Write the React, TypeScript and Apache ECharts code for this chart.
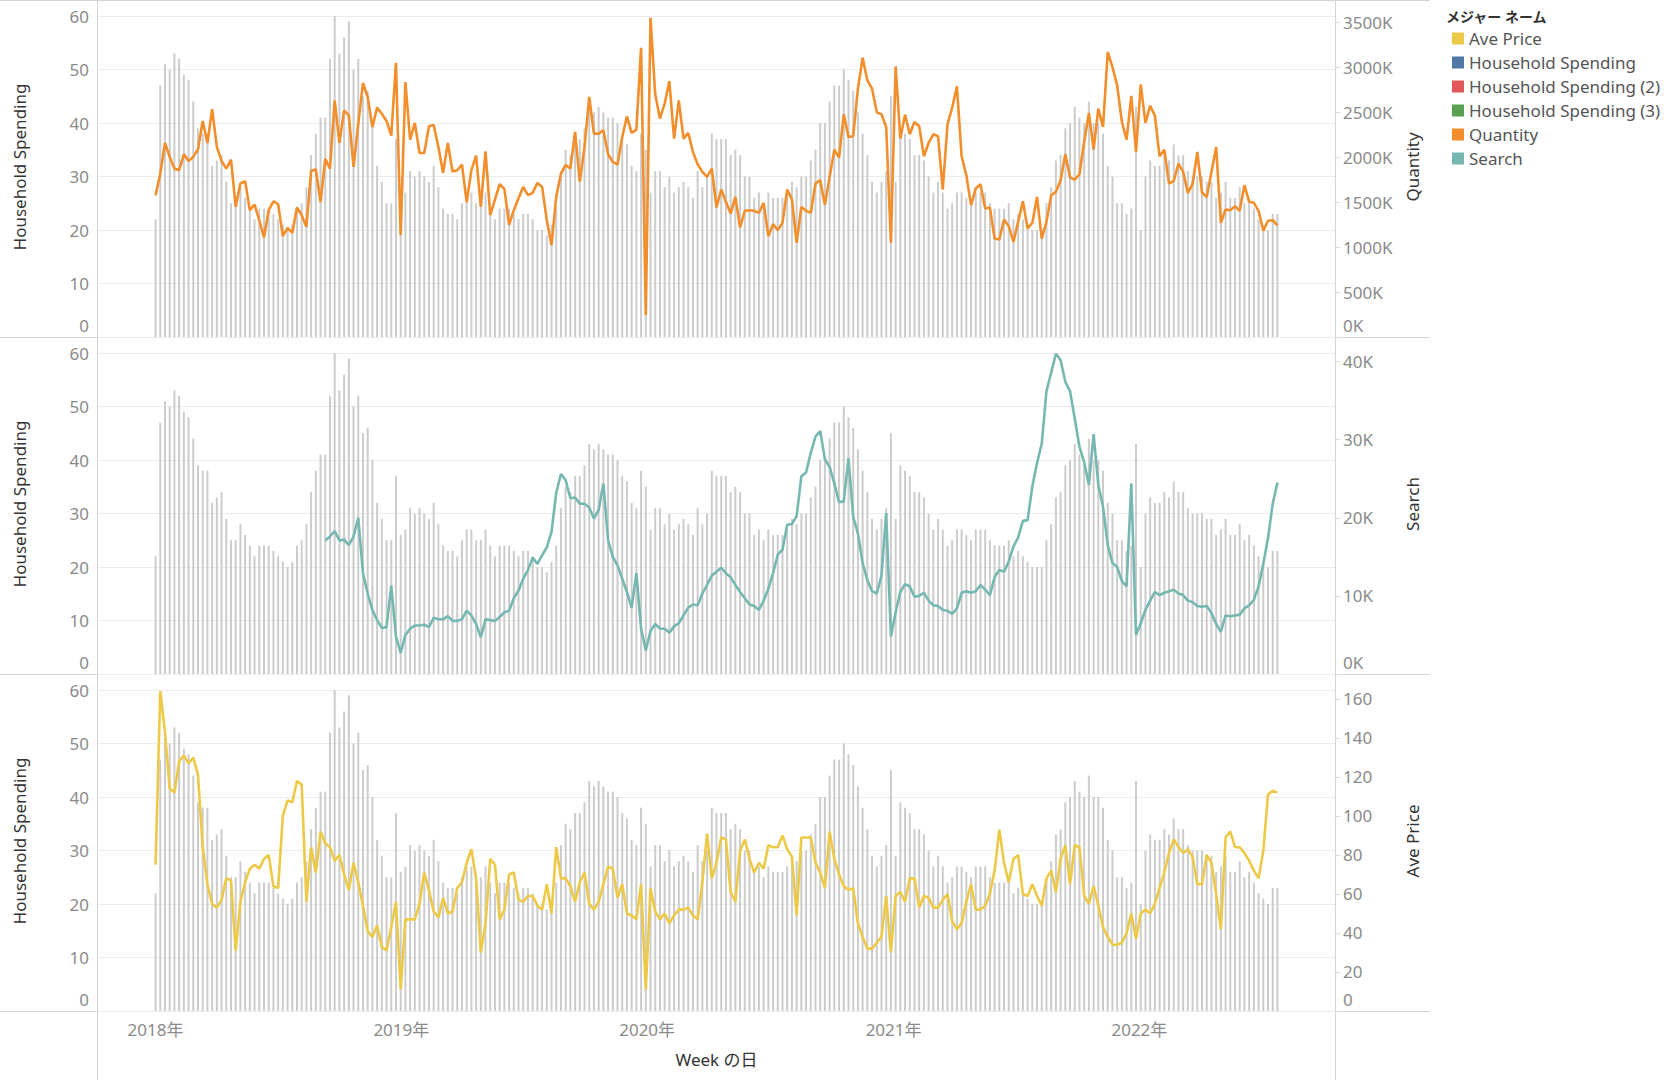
import React, { useEffect, useRef } from 'react';
import * as echarts from 'echarts';

// Weekly data, first week starts 2018-01-01 (Monday)
const FIRST_WEEK = { y: 2018, m: 0, d: 1 };

// Household Spending (grey bars, same in all three panes)
const SPENDING = [
  22, 47, 51, 50, 53, 52, 49, 48, 44, 39,
  38, 38, 32, 33, 34, 29, 25, 25, 28, 26,
  24, 22, 24, 24, 24, 23, 22, 21, 20, 21,
  24, 25, 28, 34, 38, 41, 41, 52, 60, 53,
  56, 59, 50, 52, 45, 46, 40, 32, 29, 25,
  25, 37, 26, 27, 31, 30, 31, 30, 29, 32,
  28, 24, 23, 23, 22, 25, 27, 27, 25, 25,
  27, 24, 22, 24, 24, 24, 23, 22, 23, 23,
  22, 20, 20, 19, 21, 24, 31, 35, 34, 37,
  37, 39, 43, 42, 43, 42, 41, 41, 40, 37,
  36, 32, 31, 38, 35, 27, 31, 31, 28, 30,
  27, 28, 29, 28, 26, 31, 28, 30, 38, 37,
  37, 37, 34, 35, 34, 30, 30, 26, 27, 25,
  27, 26, 26, 26, 27, 29, 28, 30, 30, 33,
  35, 40, 40, 44, 47, 47, 50, 48, 46, 42,
  38, 34, 29, 27, 29, 31, 45, 29, 39, 38,
  37, 34, 34, 33, 30, 27, 29, 27, 24, 25,
  27, 27, 26, 25, 27, 27, 27, 25, 24, 24,
  24, 25, 22, 23, 22, 21, 20, 20, 20, 25,
  28, 33, 34, 39, 40, 43, 41, 40, 44, 40,
  40, 38, 32, 30, 25, 25, 23, 24, 43, 20,
  30, 33, 32, 32, 34, 33, 36, 34, 34, 31,
  30, 30, 30, 29, 29, 26, 27, 29, 26, 26,
  28, 25, 26, 24, 22, 21, 20, 23, 23,
];

// Quantity, in thousands
const QUANTITY_K = [
  1574, 1819, 2159, 2004, 1874, 1856, 2033, 1959, 2004, 2089,
  2404, 2159, 2534, 2115, 1959, 1874, 1974, 1448, 1708, 1733,
  1411, 1474, 1300, 1107, 1411, 1508, 1478, 1122, 1215, 1159,
  1441, 1356, 1226, 1848, 1867, 1500, 1982, 1874, 2634, 2159,
  2522, 2467, 1893, 2374, 2826, 2671, 2337, 2552, 2485, 2404,
  2241, 3052, 1133, 2837, 2197, 2382, 2048, 2048, 2345, 2359,
  2115, 1826, 2159, 1841, 1856, 1919, 1500, 1856, 2019, 1448,
  2067, 1356, 1530, 1700, 1648, 1248, 1411, 1545, 1670, 1578,
  1604, 1715, 1670, 1300, 1022, 1559, 1819, 1915, 1874, 2282,
  1726, 2115, 2671, 2263, 2263, 2300, 2033, 1948, 1919, 2226,
  2456, 2271, 2308, 3219, 244, 3552, 2700, 2430, 2597, 2848,
  2208, 2634, 2208, 2271, 2059, 1922, 1837, 1782, 1874, 1441,
  1641, 1504, 1374, 1559, 1219, 1404, 1411, 1404, 1382, 1493,
  1122, 1256, 1189, 1270, 1641, 1530, 1048, 1448, 1404, 1382,
  1708, 1745, 1470, 1782, 2085, 1996, 2478, 2226, 2234, 2763,
  3108, 2856, 2763, 2500, 2478, 2337, 1048, 3011, 2208, 2474,
  2256, 2393, 2345, 2011, 2159, 2256, 2234, 1641, 2367, 2552,
  2789, 2011, 1800, 1467, 1652, 1700, 1430, 1441, 1096, 1085,
  1308, 1233, 1059, 1282, 1511, 1208, 1270, 1559, 1096, 1282,
  1578, 1615, 1745, 2033, 1774, 1752, 1811, 2171, 2493, 2085,
  2541, 2337, 3171, 3004, 2800, 2393, 2197, 2682, 2059, 2811,
  2382, 2574, 2463, 2011, 2085, 1708, 1737, 1930, 1837, 1604,
  1700, 2059, 1604, 1559, 1837, 2115, 1270, 1419, 1411, 1456,
  1404, 1689, 1504, 1493, 1404, 1182, 1293, 1300, 1241,
];

// Search, in thousands (series begins at week index 36)
const SEARCH_FIRST_WEEK = 36;
const SEARCH_K = [
  17.1, 17.6, 18.3, 17.1,
  17.2, 16.5, 17.6, 20.0, 12.9, 10.3, 8.2, 6.9, 5.9, 6.0,
  11.3, 4.8, 2.7, 5.0, 5.8, 6.2, 6.2, 6.3, 6.0, 7.2,
  7.0, 7.0, 7.4, 6.8, 6.8, 7.0, 8.1, 7.5, 6.4, 4.7,
  7.0, 6.9, 6.8, 7.3, 7.9, 8.1, 9.7, 10.7, 12.2, 13.3,
  14.9, 14.1, 15.2, 16.2, 18.2, 23.2, 25.6, 24.8, 22.5, 22.6,
  21.8, 21.8, 21.3, 19.9, 21.0, 24.4, 17.1, 15.0, 13.9, 12.2,
  10.5, 8.5, 12.9, 5.8, 3.0, 5.5, 6.4, 5.8, 5.8, 5.3,
  6.1, 6.5, 7.5, 8.5, 8.9, 8.8, 10.3, 11.4, 12.6, 13.1,
  13.6, 12.9, 12.4, 11.4, 10.5, 9.7, 8.9, 8.7, 8.2, 9.4,
  10.9, 12.9, 15.3, 15.9, 19.1, 19.2, 20.2, 25.3, 25.8, 28.3,
  30.4, 31.1, 27.5, 26.5, 24.4, 22.0, 22.1, 27.6, 20.1, 18.0,
  14.2, 12.0, 10.6, 10.3, 12.6, 20.6, 4.8, 7.9, 10.5, 11.5,
  11.2, 9.9, 10.0, 10.4, 9.4, 8.8, 8.7, 8.2, 8.1, 7.7,
  8.4, 10.4, 10.6, 10.4, 10.6, 11.4, 10.8, 10.1, 12.4, 13.3,
  13.1, 14.4, 16.3, 17.5, 19.6, 19.7, 24.0, 27.0, 29.5, 36.2,
  38.6, 41.0, 40.2, 37.4, 36.2, 32.7, 29.1, 27.1, 24.2, 30.7,
  24.2, 21.4, 16.5, 14.2, 13.7, 11.9, 11.2, 24.4, 5.0, 6.5,
  8.2, 9.4, 10.5, 10.1, 10.4, 10.6, 10.8, 10.3, 10.1, 9.4,
  9.2, 8.7, 8.6, 8.7, 7.8, 6.4, 5.4, 7.5, 7.4, 7.5,
  7.6, 8.4, 8.8, 9.5, 11.2, 14.1, 17.4, 21.8, 24.5,
];

// Ave Price
const AVE_PRICE = [
  75, 164, 143, 114, 112, 128, 131, 127, 130, 121,
  84, 65, 55, 53, 57, 68, 67, 31, 56, 66,
  73, 75, 73, 78, 80, 64, 63, 100, 108, 107,
  118, 116, 56, 84, 71, 92, 86, 84, 77, 80,
  70, 62, 76, 66, 54, 41, 38, 44, 33, 31,
  43, 56, 11, 47, 47, 47, 55, 71, 62, 51,
  48, 58, 50, 51, 63, 66, 76, 83, 68, 30,
  45, 78, 75, 47, 52, 70, 71, 57, 56, 59,
  59, 54, 52, 65, 50, 84, 68, 68, 64, 56,
  66, 71, 55, 52, 56, 65, 74, 73, 58, 65,
  50, 49, 47, 65, 11, 63, 51, 47, 50, 45,
  49, 52, 52, 53, 49, 47, 66, 91, 68, 76,
  89, 88, 61, 56, 82, 88, 78, 71, 76, 73,
  85, 84, 84, 90, 83, 79, 49, 89, 89, 89,
  76, 71, 63, 92, 78, 70, 64, 62, 63, 45,
  38, 32, 32, 35, 38, 59, 30, 59, 61, 56,
  68, 68, 53, 59, 58, 53, 53, 57, 60, 46,
  42, 45, 56, 65, 52, 52, 54, 60, 72, 93,
  76, 66, 78, 80, 60, 59, 65, 59, 54, 68,
  72, 61, 78, 85, 65, 85, 84, 59, 55, 64,
  54, 43, 38, 34, 34, 35, 40, 50, 37, 50,
  52, 50, 55, 63, 71, 81, 88, 84, 81, 83,
  79, 65, 65, 80, 76, 60, 42, 89, 92, 84,
  84, 81, 77, 72, 68, 82, 111, 113, 112,
];

const LEGEND_TITLE = 'メジャー ネーム';
const LEGEND_ITEMS = [
  { name: 'Ave Price', color: '#edc948' },
  { name: 'Household Spending', color: '#4e79a7' },
  { name: 'Household Spending (2)', color: '#e15759' },
  { name: 'Household Spending (3)', color: '#59a14f' },
  { name: 'Quantity', color: '#f28e2b' },
  { name: 'Search', color: '#76b7b2' },
];
const BAR_NAMES = ['Household Spending', 'Household Spending (2)', 'Household Spending (3)'];
const X_TITLE = 'Week の日';
const LEFT_TITLE = 'Household Spending';

const FONT = '"Noto Sans", "Noto Sans CJK JP", sans-serif';
const LABEL_COLOR = '#8a8a8a';
const TITLE_COLOR = '#333333';
const BAR_COLOR = '#cccccc';
const GRID_LINE = '#ececec';
const BORDER = '#d4d4d4';
const FS = 17;

const weekTime = (i: number) => new Date(FIRST_WEEK.y, FIRST_WEEK.m, FIRST_WEEK.d + 7 * i).getTime();

export default function App() {
  const ref = useRef<HTMLDivElement>(null);

  useEffect(() => {
    if (!ref.current) return;
    const chart = echarts.init(ref.current, undefined, { renderer: 'svg' });

    const GRID_L = 98;
    const GRID_W = 1237;
    const GRID_H = 321;
    const panels = [
      { top: 16, rightMax: 3572, step: 500, title: 'Quantity', unit: 'K' },
      { top: 353, rightMax: 41.09, step: 10, title: 'Search', unit: 'K' },
      { top: 690, rightMax: 164.6, step: 20, title: 'Ave Price', unit: '' },
    ];

    const xMin = new Date(2017, 9, 9).getTime();
    const xMax = new Date(2022, 9, 17).getTime();
    const DAY = 86400000;

    const grids = panels.map((p) => ({ left: GRID_L, width: GRID_W, top: p.top, height: GRID_H, outerBoundsMode: 'none' }));

    const xAxes = panels.map((p, k) => ({
      type: 'time',
      gridIndex: k,
      min: xMin,
      max: xMax,
      minInterval: 365 * DAY,
      maxInterval: 366 * DAY,
      axisLine: { show: false },
      axisTick: { show: false },
      splitLine: { show: false },
      axisLabel: k === 2
        ? {
            show: true,
            fontSize: FS,
            color: LABEL_COLOR,
            fontFamily: FONT,
            margin: 10,
            hideOverlap: false,
            formatter: (val: number) => {
              const d = new Date(val);
              return d.getMonth() === 0 && d.getDate() === 1 ? d.getFullYear() + '年' : '';
            },
          }
        : { show: false },
      name: k === 2 ? X_TITLE : '',
      nameLocation: 'middle',
      nameGap: 40,
      nameTextStyle: { fontSize: FS, color: TITLE_COLOR, fontFamily: FONT },
    }));

    const zeroRich = { z: { padding: [0, 0, 24, 0], fontSize: FS, color: LABEL_COLOR, fontFamily: FONT } };
    // axis titles are centred a little above the pane centre (as in the reference)
    const titlePad = [0, 0, 0, 19];

    const yAxes: any[] = [];
    panels.forEach((p, k) => {
      yAxes.push({
        type: 'value',
        gridIndex: k,
        position: 'left',
        min: 0,
        max: 60,
        interval: 10,
        name: LEFT_TITLE,
        nameLocation: 'middle',
        nameRotate: 90,
        nameGap: 70,
        nameTextStyle: { fontSize: FS, color: TITLE_COLOR, fontFamily: FONT, padding: titlePad },
        axisLine: { show: false },
        axisTick: { show: false },
        axisLabel: {
          fontSize: FS,
          color: LABEL_COLOR,
          fontFamily: FONT,
          margin: 9,
          formatter: (v: number) => (v === 0 ? '{z|0}' : String(v)),
          rich: zeroRich,
        },
        splitLine: { show: true, lineStyle: { color: GRID_LINE, width: 1 } },
      });
      yAxes.push({
        type: 'value',
        gridIndex: k,
        position: 'right',
        min: 0,
        max: p.rightMax,
        interval: p.step,
        name: p.title,
        nameLocation: 'middle',
        nameRotate: 90,
        nameGap: 69,
        nameTextStyle: { fontSize: FS, color: TITLE_COLOR, fontFamily: FONT, padding: titlePad },
        axisLine: { show: false },
        axisTick: { show: true, length: 5, lineStyle: { color: '#dddddd' } },
        axisLabel: {
          fontSize: FS,
          color: LABEL_COLOR,
          fontFamily: FONT,
          margin: 8,
          showMaxLabel: false,
          formatter: (v: number) => {
            const r = v / p.step;
            if (Math.abs(r - Math.round(r)) > 1e-6) return '';
            return v === 0 ? '{z|0' + p.unit + '}' : Math.round(v) + p.unit;
          },
          rich: zeroRich,
        },
        splitLine: { show: false },
      });
    });

    const barData = SPENDING.map((v, i) => [weekTime(i), v]);
    const series: any[] = [];
    panels.forEach((p, k) => {
      series.push({
        type: 'bar',
        name: BAR_NAMES[k],
        xAxisIndex: k,
        yAxisIndex: 2 * k,
        data: barData,
        barWidth: 2,
        itemStyle: { color: BAR_COLOR },
        silent: true,
      });
    });
    series.push({
      type: 'line',
      name: 'Quantity',
      xAxisIndex: 0,
      yAxisIndex: 1,
      data: QUANTITY_K.map((v, i) => [weekTime(i), v]),
      symbol: 'none',
      lineStyle: { color: '#f28e2b', width: 2.6 },
      itemStyle: { color: '#f28e2b' },
      z: 5,
    });
    series.push({
      type: 'line',
      name: 'Search',
      xAxisIndex: 1,
      yAxisIndex: 3,
      data: SEARCH_K.map((v, i) => [weekTime(SEARCH_FIRST_WEEK + i), v]),
      symbol: 'none',
      lineStyle: { color: '#76b7b2', width: 2.6 },
      itemStyle: { color: '#76b7b2' },
      z: 5,
    });
    series.push({
      type: 'line',
      name: 'Ave Price',
      xAxisIndex: 2,
      yAxisIndex: 5,
      data: AVE_PRICE.map((v, i) => [weekTime(i), v]),
      symbol: 'none',
      lineStyle: { color: '#edc948', width: 2.6 },
      itemStyle: { color: '#edc948' },
      z: 5,
    });

    const hLine = (y: number) => ({
      type: 'line',
      silent: true,
      shape: { x1: 0, y1: y, x2: 1430, y2: y },
      style: { stroke: BORDER, lineWidth: 1 },
    });
    const vLine = (x: number) => ({
      type: 'line',
      silent: true,
      shape: { x1: x, y1: 0, x2: x, y2: 1080 },
      style: { stroke: BORDER, lineWidth: 1 },
    });

    chart.setOption({
      animation: false,
      backgroundColor: '#ffffff',
      textStyle: { fontFamily: FONT },
      title: {
        text: LEGEND_TITLE,
        left: 1441,
        top: 4,
        textStyle: { fontSize: 14, fontWeight: 'bold', color: TITLE_COLOR, fontFamily: FONT },
      },
      legend: {
        orient: 'vertical',
        left: 1447,
        top: 25,
        icon: 'rect',
        itemWidth: 12,
        itemHeight: 12,
        itemGap: 7,
        selectedMode: false,
        textStyle: { fontSize: FS, color: '#555555', fontFamily: FONT },
        data: LEGEND_ITEMS.map((it) => ({ name: it.name, itemStyle: { color: it.color, borderWidth: 0 } })),
      },
      grid: grids,
      xAxis: xAxes,
      yAxis: yAxes,
      series,
      graphic: [hLine(0.5), hLine(337.5), hLine(674.5), hLine(1011.5), vLine(97.5), vLine(1335.5)],
    } as any);

    return () => chart.dispose();
  }, []);

  return <div ref={ref} style={{ position: 'fixed', left: 0, top: 0, width: 1666, height: 1080 }} />;
}
